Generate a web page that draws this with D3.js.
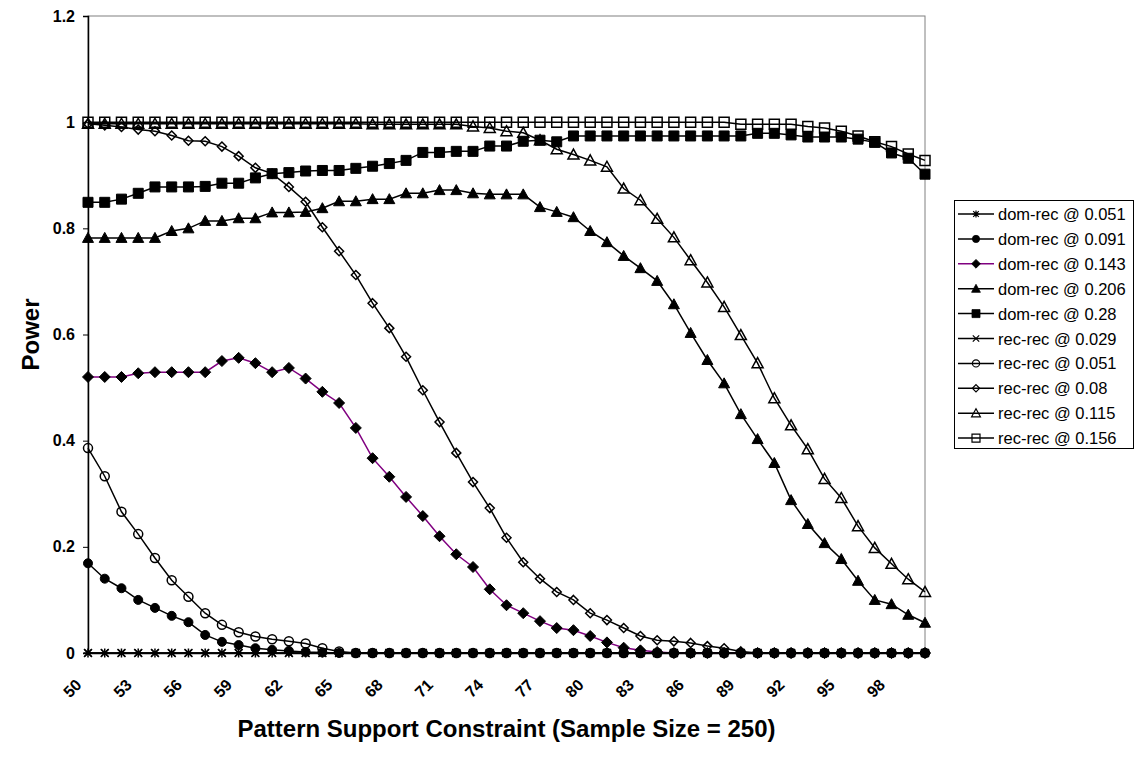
<!DOCTYPE html>
<html>
<head>
<meta charset="utf-8">
<script src="https://cdn.jsdelivr.net/npm/d3@7"></script>
<style>
  html, body { margin: 0; padding: 0; background: #fff; }
  svg { display: block; font-family: "Liberation Sans", Arial, sans-serif; }
</style>
</head>
<body>
<svg id="chart" width="1135" height="759"></svg>
<script>
// Pattern support constraint (x categories)
const categories = [50,51,52,53,54,55,56,57,58,59,60,61,62,63,64,65,66,67,68,69,70,
  71,72,73,74,75,76,77,78,79,80,81,82,83,84,85,86,87,88,89,90,91,92,93,94,95,96,97,98,99,100];
const xTickLabels = ["50","53","56","59","62","65","68","71","74","77","80","83","86","89","92","95","98"];
const yTickValues = [0, 0.2, 0.4, 0.6, 0.8, 1, 1.2];

// Power per support constraint, one array per series
const domRec051 = [0,0,0,0,0,0,0,0,0,0,0,0,0,0,0,0,0,0,0,0,0,0,0,0,0,0,0,0,0,0,0,0,0,0,0,0,0,0,0,0,0,0,0,0,0,0,0,0,0,0,0];
const domRec091 = [0.169,0.140,0.122,0.100,0.085,0.070,0.058,0.034,0.021,0.015,0.009,0.006,0.004,0.002,0.001,
  0,0,0,0,0,0,0,0,0,0,0,0,0,0,0,0,0,0,0,0,0,0,0,0,0,0,0,0,0,0,0,0,0,0,0,0];
const domRec143 = [0.520,0.520,0.520,0.527,0.529,0.529,0.529,0.529,0.550,0.556,0.546,0.529,0.537,0.517,0.492,
  0.471,0.424,0.367,0.332,0.294,0.258,0.220,0.186,0.162,0.120,0.090,0.075,0.060,0.047,0.043,0.032,0.020,0.010,
  0.005,0.002,0,0,0,0,0,0,0,0,0,0,0,0,0,0,0,0];
const domRec206 = [0.782,0.782,0.782,0.782,0.782,0.795,0.800,0.814,0.814,0.819,0.819,0.830,0.830,0.831,0.838,
  0.851,0.851,0.855,0.855,0.866,0.866,0.872,0.872,0.866,0.864,0.864,0.864,0.840,0.831,0.821,0.795,0.774,0.748,
  0.725,0.701,0.657,0.603,0.552,0.508,0.450,0.403,0.358,0.288,0.243,0.207,0.177,0.136,0.100,0.092,0.072,0.057];
const domRec28 = [0.849,0.849,0.855,0.866,0.878,0.878,0.878,0.879,0.885,0.885,0.895,0.903,0.905,0.908,0.909,
  0.909,0.913,0.917,0.922,0.928,0.943,0.943,0.945,0.945,0.955,0.955,0.964,0.966,0.963,0.974,0.974,0.974,0.974,
  0.974,0.974,0.974,0.974,0.974,0.974,0.974,0.979,0.979,0.976,0.972,0.972,0.972,0.968,0.962,0.942,0.932,0.902];
const recRec029 = [0,0,0,0,0,0,0,0,0,0,0,0,0,0,0,0,0,0,0,0,0,0,0,0,0,0,0,0,0,0,0,0,0,0,0,0,0,0,0,0,0,0,0,0,0,0,0,0,0,0,0];
const recRec051 = [0.386,0.333,0.266,0.224,0.179,0.137,0.106,0.075,0.053,0.039,0.031,0.026,0.022,0.018,0.009,0.003,
  0,0,0,0,0,0,0,0,0,0,0,0,0,0,0,0,0,0,0,0,0,0,0,0,0,0,0,0,0,0,0,0,0,0,0];
const recRec08 = [0.997,0.994,0.991,0.986,0.983,0.975,0.965,0.964,0.954,0.936,0.914,0.903,0.878,0.850,0.802,
  0.757,0.712,0.659,0.612,0.558,0.495,0.435,0.377,0.322,0.273,0.217,0.171,0.140,0.115,0.100,0.075,0.062,0.047,
  0.032,0.024,0.022,0.019,0.013,0.009,0.003,0,0,0,0,0,0,0,0,0,0,0];
const recRec115 = [0.997,0.997,0.997,0.997,0.997,0.997,0.997,0.997,0.997,0.997,0.997,0.997,0.997,0.997,0.997,
  0.997,0.997,0.996,0.996,0.996,0.996,0.996,0.996,0.992,0.989,0.983,0.980,0.966,0.949,0.939,0.928,0.916,0.875,
  0.853,0.818,0.783,0.740,0.698,0.652,0.599,0.546,0.480,0.429,0.384,0.328,0.292,0.239,0.198,0.168,0.139,0.115];
const recRec156 = [1,1,1,1,1,1,1,1,1,1,1,1,1,1,1,1,1,1,1,1,1,1,1,1,1,1,1,1,1,1,1,1,1,1,1,1,1,1,1,
  0.996,0.996,0.996,0.996,0.992,0.989,0.983,0.974,0.963,0.954,0.940,0.928];

const seriesNames = ["dom-rec @ 0.051","dom-rec @ 0.091","dom-rec @ 0.143","dom-rec @ 0.206","dom-rec @ 0.28",
  "rec-rec @ 0.029","rec-rec @ 0.051","rec-rec @ 0.08","rec-rec @ 0.115","rec-rec @ 0.156"];
const seriesValues = [domRec051, domRec091, domRec143, domRec206, domRec28,
  recRec029, recRec051, recRec08, recRec115, recRec156];
const seriesMarkers = ["star","circle","diamond","triangle","square","cross","circle","diamondSmall","triangle","square"];
const seriesFilled = [true,true,true,true,true,false,false,false,false,false];
const seriesLineColor = ["#000","#000","#800080","#000","#000","#000","#000","#000","#000","#000"];

const svg = d3.select("#chart");
const plot = { left: 88, right: 925, top: 16, bottom: 653 };
const fontFamily = "'Liberation Sans', Arial, sans-serif";

const x = d3.scalePoint().domain(categories).range([plot.left, plot.right]);
const y = d3.scaleLinear().domain([0, 1.2]).range([plot.bottom, plot.top]);

// plot area frame
svg.append("rect")
  .attr("x", plot.left).attr("y", plot.top)
  .attr("width", plot.right - plot.left).attr("height", plot.bottom - plot.top)
  .attr("fill", "none").attr("stroke", "#808080").attr("stroke-width", 1);

// y axis
const yAxis = d3.axisLeft(y).tickValues(yTickValues).tickSize(5).tickPadding(8)
  .tickFormat(d => d3.format("~g")(d));
const gy = svg.append("g").attr("transform", `translate(${plot.left},0)`).call(yAxis);
gy.select(".domain").attr("stroke", "#000").attr("stroke-width", 1.5);
gy.selectAll(".tick line").attr("stroke", "#000");
gy.selectAll(".tick text").attr("font-size", 16).attr("font-weight", "bold")
  .attr("font-family", fontFamily).attr("fill", "#000");

// x axis (labels every third category, rotated)
const xAxis = d3.axisBottom(x).tickValues(xTickLabels.map(Number)).tickSize(0).tickPadding(0);
const gx = svg.append("g").attr("transform", `translate(0,${plot.bottom})`).call(xAxis);
gx.select(".domain").attr("stroke", "#000").attr("stroke-width", 1.5);
gx.selectAll(".tick text")
  .attr("font-size", 16).attr("font-weight", "bold")
  .attr("font-family", fontFamily).attr("fill", "#000")
  .attr("text-anchor", "end")
  .attr("y", 0).attr("dy", "0")
  .attr("transform", "translate(-6,33) rotate(-45)");

// axis titles
svg.append("text")
  .attr("x", (plot.left + plot.right) / 2).attr("y", 737)
  .attr("text-anchor", "middle").attr("font-size", 24).attr("font-weight", "bold")
  .text("Pattern Support Constraint (Sample Size = 250)");
svg.append("text")
  .attr("transform", `translate(39,${(plot.top + plot.bottom) / 2}) rotate(-90)`)
  .attr("text-anchor", "middle").attr("font-size", 24).attr("font-weight", "bold")
  .text("Power");

// marker shapes
function markerPath(kind) {
  switch (kind) {
    case "star": return "M-4.5,0H4.5M0,-4.5V4.5M-3.5,-3.5L3.5,3.5M-3.5,3.5L3.5,-3.5";
    case "cross": return "M-4,-4L4,4M-4,4L4,-4";
    case "circle": return "M4.5,0A4.5,4.5 0 1,1 -4.5,0A4.5,4.5 0 1,1 4.5,0Z";
    case "diamond": return "M0,-5.5L5.5,0L0,5.5L-5.5,0Z";
    case "diamondSmall": return "M0,-4.5L4.5,0L0,4.5L-4.5,0Z";
    case "triangle": return "M0,-5.5L5.5,4.5L-5.5,4.5Z";
    case "square": return "M-5,-5H5V5H-5Z";
  }
}
function drawMarker(sel, kind, filled) {
  const p = sel.append("path").attr("d", markerPath(kind));
  if (kind === "star" || kind === "cross") {
    p.attr("fill", "none").attr("stroke", "#000").attr("stroke-width", 1.5);
  } else if (filled) {
    p.attr("fill", "#000").attr("stroke", "#000").attr("stroke-width", 1);
  } else {
    p.attr("fill", "none").attr("stroke", "#000").attr("stroke-width", 1.5);
  }
  return p;
}

const line = d3.line().x(d => x(d.c)).y(d => y(d.v));

seriesValues.forEach((vals, i) => {
  const pts = vals.map((v, j) => ({ c: categories[j], v }));
  const g = svg.append("g");
  g.append("path").datum(pts).attr("d", line)
    .attr("fill", "none").attr("stroke", seriesLineColor[i]).attr("stroke-width", 1.5);
  pts.forEach(p => {
    const m = g.append("g").attr("transform", `translate(${x(p.c)},${y(p.v)})`);
    drawMarker(m, seriesMarkers[i], seriesFilled[i]);
  });
});

// legend
const legend = svg.append("g");
legend.append("rect").attr("x", 954.5).attr("y", 200.5).attr("width", 179).attr("height", 248)
  .attr("fill", "#fff").attr("stroke", "#000").attr("stroke-width", 1);
seriesNames.forEach((name, i) => {
  const ly = 214 + i * 24.9;
  const g = legend.append("g");
  g.append("line").attr("x1", 958).attr("x2", 994).attr("y1", ly).attr("y2", ly)
    .attr("stroke", seriesLineColor[i]).attr("stroke-width", 1.5);
  const m = g.append("g").attr("transform", `translate(976,${ly}) scale(0.8)`);
  drawMarker(m, seriesMarkers[i], seriesFilled[i]);
  g.append("text").attr("x", 998).attr("y", ly + 6).attr("font-size", 16.5)
    .attr("font-family", fontFamily).text(name);
});
</script>
</body>
</html>
